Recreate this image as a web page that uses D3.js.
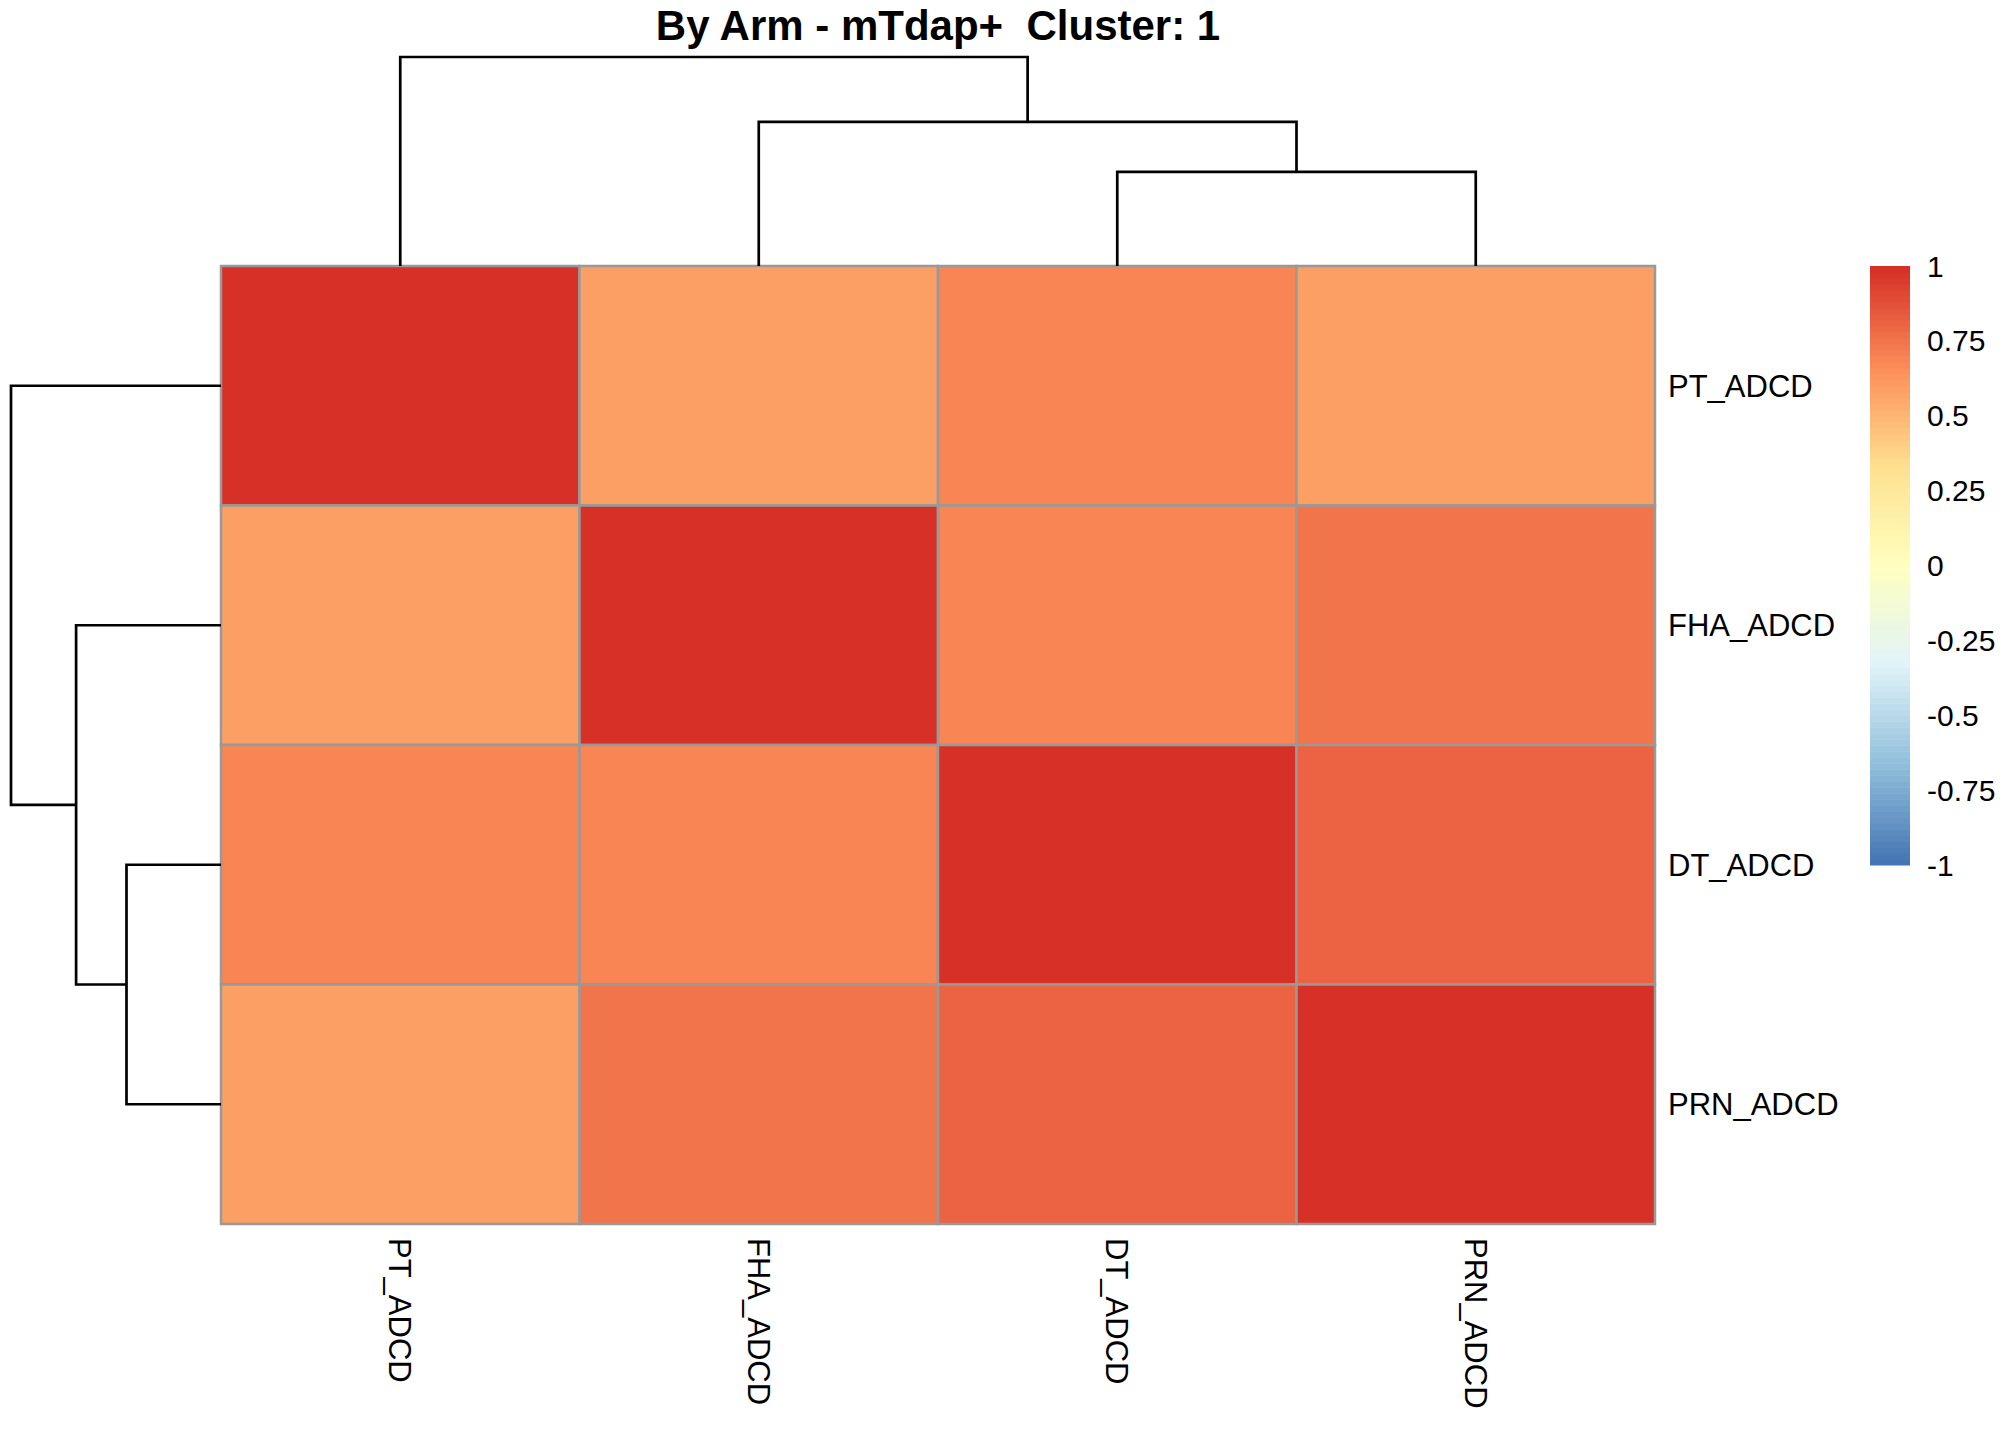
<!DOCTYPE html>
<html>
<head>
<meta charset="utf-8">
<script src="https://cdn.jsdelivr.net/npm/d3@7"></script>
<style>
    body { margin: 0; background: #fff; }
    text { font-family: "Liberation Sans", Arial, sans-serif; fill: #000; }
</style>
</head>
<body>
<svg class="chart"></svg>
<script>
var title = 'By Arm - mTdap+  Cluster: 1';
var rowNames = ['PT_ADCD', 'FHA_ADCD', 'DT_ADCD', 'PRN_ADCD'];
var colNames = ['PT_ADCD', 'FHA_ADCD', 'DT_ADCD', 'PRN_ADCD'];
var values = [
    [1.00, 0.58, 0.69, 0.58],
    [0.58, 1.00, 0.69, 0.74],
    [0.69, 0.69, 1.00, 0.80],
    [0.58, 0.74, 0.80, 1.00]
];
// hclust style merges: negative = leaf (1-based), positive = earlier merge
var merges = [[-3, -4], [-2, 1], [-1, 2]];
var mergeHeights = [0.45, 0.69, 1.0];
var legendTicks = [1, 0.75, 0.5, 0.25, 0, -0.25, -0.5, -0.75, -1];
var paletteStops = ['#4575B4', '#91BFDB', '#E0F3F8', '#FFFFBF', '#FEE090', '#FC8D59', '#D73027'];

function show() {
    'use strict';

    var width = 2016, height = 1440;
    var hm = { left: 221, right: 1655, top: 266, bottom: 1224 };

    var svg = d3.select('.chart')
        .attr('width', width)
        .attr('height', height);

    var x = d3.scaleBand().domain(colNames).range([hm.left, hm.right]);
    var y = d3.scaleBand().domain(rowNames).range([hm.top, hm.bottom]);

    // pheatmap style palette: 100 colours between -1 and 1
    var ramp = d3.scaleLinear()
        .domain(paletteStops.map(function (d, i) { return -1 + i * 2 / (paletteStops.length - 1); }))
        .range(paletteStops);
    var palette = d3.range(100).map(function (i) { return ramp(-1 + 2 * i / 99); });
    var color = d3.scaleQuantize().domain([-1, 1]).range(palette);

    // cells
    var cells = [];
    values.forEach(function (row, i) {
        row.forEach(function (v, j) { cells.push({ r: rowNames[i], c: colNames[j], v: v }); });
    });

    svg.append('g').selectAll('rect').data(cells)
        .enter()
        .append('rect')
        .attr('x', function (d) { return x(d.c); })
        .attr('y', function (d) { return y(d.r); })
        .attr('width', x.bandwidth())
        .attr('height', y.bandwidth())
        .attr('fill', function (d) { return color(d.v); })
        .attr('stroke', '#999999')
        .attr('stroke-width', 2.5);

    // dendrograms
    function dendro(leafPos, hScale, vertical) {
        var nodes = [];
        function node(k) {
            return k < 0 ? { pos: leafPos(-k - 1), h: 0 } : nodes[k - 1];
        }
        var paths = merges.map(function (m, i) {
            var a = node(m[0]), b = node(m[1]);
            var h = mergeHeights[i];
            nodes.push({ pos: (a.pos + b.pos) / 2, h: h });
            var pts = [[a.pos, a.h], [a.pos, h], [b.pos, h], [b.pos, b.h]];
            return pts.map(function (p) {
                return vertical ? [p[0], hScale(p[1])] : [hScale(p[1]), p[0]];
            });
        });
        return paths;
    }

    var topH = d3.scaleLinear().domain([0, d3.max(mergeHeights)]).range([hm.top, 57]);
    var leftH = d3.scaleLinear().domain([0, d3.max(mergeHeights)]).range([hm.left, 11]);

    var line = d3.line();

    svg.append('g').selectAll('path')
        .data(dendro(function (k) { return x(colNames[k]) + x.bandwidth() / 2; }, topH, true))
        .enter()
        .append('path')
        .attr('d', line)
        .attr('fill', 'none')
        .attr('stroke', '#000')
        .attr('stroke-width', 2.7);

    svg.append('g').selectAll('path')
        .data(dendro(function (k) { return y(rowNames[k]) + y.bandwidth() / 2; }, leftH, false))
        .enter()
        .append('path')
        .attr('d', line)
        .attr('fill', 'none')
        .attr('stroke', '#000')
        .attr('stroke-width', 2.7);

    // labels
    svg.append('g').selectAll('text').data(rowNames)
        .enter()
        .append('text')
        .attr('x', hm.right + 13)
        .attr('y', function (d) { return y(d) + y.bandwidth() / 2; })
        .attr('dy', '.35em')
        .style('font-size', '31px')
        .text(function (d) { return d; });

    svg.append('g').selectAll('text').data(colNames)
        .enter()
        .append('text')
        .attr('transform', function (d) {
            return 'translate(' + (x(d) + x.bandwidth() / 2) + ',' + (hm.bottom + 14) + ') rotate(90)';
        })
        .attr('dy', '.35em')
        .style('font-size', '31px')
        .text(function (d) { return d; });

    svg.append('text')
        .attr('x', (hm.left + hm.right) / 2)
        .attr('y', 40)
        .attr('text-anchor', 'middle')
        .style('font-size', '42px')
        .style('font-weight', 'bold')
        .style('white-space', 'pre')
        .text(title);

    // colour legend
    var legendY = d3.scaleLinear().domain([-1, 1]).range([865, 266]);
    var legend = svg.append('g');

    legend.selectAll('rect').data(palette)
        .enter()
        .append('rect')
        .attr('x', 1870)
        .attr('width', 40)
        .attr('y', function (d, i) { return legendY(-1 + 2 * (i + 1) / 100); })
        .attr('height', function (d, i) { return legendY(-1 + 2 * i / 100) - legendY(-1 + 2 * (i + 1) / 100) + 0.5; })
        .attr('fill', function (d) { return d; });

    legend.selectAll('text').data(legendTicks)
        .enter()
        .append('text')
        .attr('x', 1927)
        .attr('y', function (d) { return legendY(d); })
        .attr('dy', '.35em')
        .style('font-size', '30px')
        .text(function (d) { return String(d); });
}

show();
</script>
</body>
</html>
